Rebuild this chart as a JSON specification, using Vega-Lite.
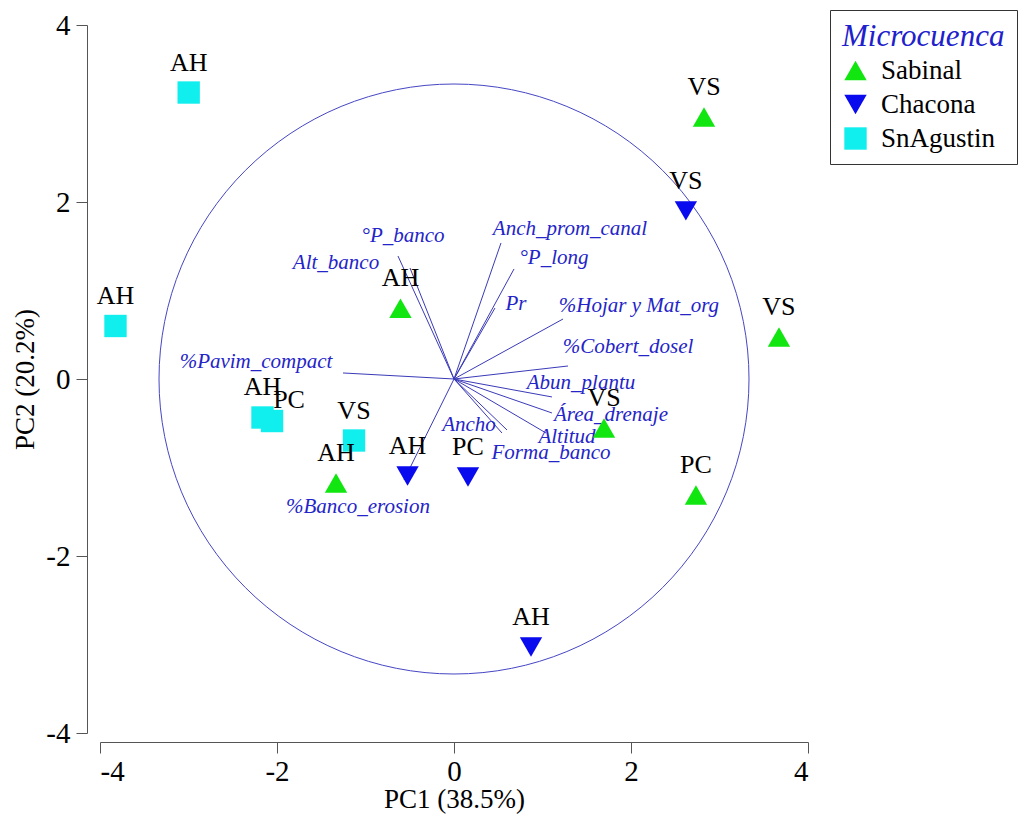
{
  "$schema": "https://vega.github.io/schema/vega-lite/v6.json",
  "width": 708,
  "height": 708,
  "autosize": {"type": "none"},
  "padding": {"left": 100, "top": 25, "right": 216, "bottom": 88},
  "background": "white",
  "config": {
    "view": {"stroke": null},
    "font": "Times New Roman, Liberation Serif, DejaVu Serif, serif",
    "text": {"font": "Times New Roman, Liberation Serif, DejaVu Serif, serif"},
    "axis": {"labelFont": "Times New Roman, Liberation Serif, DejaVu Serif, serif", "titleFont": "Times New Roman, Liberation Serif, DejaVu Serif, serif"},
    "legend": {"labelFont": "Times New Roman, Liberation Serif, DejaVu Serif, serif", "titleFont": "Times New Roman, Liberation Serif, DejaVu Serif, serif"}
  },
  "datasets": {
    "scores": [
      {"grp": "Sabinal", "lab": "VS", "x": 2.825, "y": 2.96},
      {"grp": "Sabinal", "lab": "VS", "x": 3.672, "y": 0.475},
      {"grp": "Sabinal", "lab": "AH", "x": -0.605, "y": 0.8},
      {"grp": "Sabinal", "lab": "VS", "x": 1.695, "y": -0.554},
      {"grp": "Sabinal", "lab": "PC", "x": 2.734, "y": -1.311},
      {"grp": "Sabinal", "lab": "AH", "x": -1.333, "y": -1.175},
      {"grp": "Chacona", "lab": "VS", "x": 2.62, "y": 1.9},
      {"grp": "Chacona", "lab": "AH", "x": -0.525, "y": -1.096},
      {"grp": "Chacona", "lab": "PC", "x": 0.158, "y": -1.107},
      {"grp": "Chacona", "lab": "AH", "x": 0.87, "y": -3.028},
      {"grp": "SnAgustin", "lab": "AH", "x": -2.998, "y": 3.237},
      {"grp": "SnAgustin", "lab": "AH", "x": -3.825, "y": 0.599},
      {"grp": "SnAgustin", "lab": "AH", "x": -2.164, "y": -0.435},
      {"grp": "SnAgustin", "lab": "PC", "x": -2.056, "y": -0.475},
      {"grp": "SnAgustin", "lab": "VS", "x": -1.13, "y": -0.695}
    ],
    "loadings": [
      {"v": "°P_banco", "ex": -0.633, "ey": 1.39, "lx": -0.576, "ly": 1.616},
      {"v": "Alt_banco", "ex": -0.497, "ey": 1.254, "lx": -1.333, "ly": 1.311},
      {"v": "%Pavim_compact", "ex": -1.254, "ey": 0.068, "lx": -2.237, "ly": 0.192},
      {"v": "Anch_prom_canal", "ex": 0.531, "ey": 1.537, "lx": 1.311, "ly": 1.695},
      {"v": "°P_long", "ex": 0.678, "ey": 1.243, "lx": 1.13, "ly": 1.367},
      {"v": "Pr", "ex": 0.463, "ey": 0.802, "lx": 0.701, "ly": 0.847},
      {"v": "%Hojar y Mat_org", "ex": 1.232, "ey": 0.678, "lx": 2.09, "ly": 0.825},
      {"v": "%Cobert_dosel", "ex": 1.288, "ey": 0.147, "lx": 1.966, "ly": 0.362},
      {"v": "Abun_plantu", "ex": 1.107, "ey": -0.203, "lx": 1.435, "ly": -0.045},
      {"v": "Área_drenaje", "ex": 1.107, "ey": -0.384, "lx": 1.774, "ly": -0.407},
      {"v": "Altitud", "ex": 1.04, "ey": -0.61, "lx": 1.277, "ly": -0.655},
      {"v": "Forma_banco", "ex": 0.599, "ey": -0.576, "lx": 1.096, "ly": -0.836},
      {"v": "Ancho", "ex": 0.542, "ey": -0.61, "lx": 0.169, "ly": -0.52},
      {"v": "%Banco_erosion", "ex": -0.565, "ey": -1.141, "lx": -1.085, "ly": -1.446}
    ],
    "origin": [{"x": 0, "y": 0}]
  },
  "encoding": {
    "x": {
      "type": "quantitative",
      "scale": {"domain": [-4, 4], "nice": false, "zero": false},
      "axis": {
        "values": [-4, -2, 0, 2, 4],
        "labelExpr": "'' + datum.value",
        "title": "PC1 (38.5%)",
        "grid": false,
        "offset": 9,
        "domainColor": "#555555",
        "tickColor": "#555555",
        "tickSize": 11,
        "labelFontSize": 29,
        "labelColor": "black",
        "labelPadding": 4,
        "titleFontSize": 27,
        "titleFontWeight": "normal",
        "titleColor": "black",
        "titlePadding": 0
      }
    },
    "y": {
      "type": "quantitative",
      "scale": {"domain": [-4, 4], "nice": false, "zero": false},
      "axis": {
        "values": [-4, -2, 0, 2, 4],
        "labelExpr": "'' + datum.value",
        "title": "PC2 (20.2%)",
        "grid": false,
        "offset": 13,
        "domainColor": "#555555",
        "tickColor": "#555555",
        "tickSize": 11,
        "labelFontSize": 29,
        "labelColor": "black",
        "labelPadding": 6,
        "titleFontSize": 27,
        "titleFontWeight": "normal",
        "titleColor": "black",
        "titlePadding": 6
      }
    }
  },
  "layer": [
    {
      "data": {"name": "origin"},
      "mark": {"type": "point", "shape": "circle", "filled": false, "size": 348100, "stroke": "#4646c4", "strokeWidth": 1, "opacity": 1},
      "encoding": {"x": {"field": "x", "type": "quantitative"}, "y": {"field": "y", "type": "quantitative"}}
    },
    {
      "data": {"name": "loadings"},
      "mark": {"type": "rule", "color": "#3a3ab8", "strokeWidth": 1},
      "encoding": {
        "x": {"field": "ex", "type": "quantitative"},
        "y": {"field": "ey", "type": "quantitative"},
        "x2": {"datum": 0},
        "y2": {"datum": 0}
      }
    },
    {
      "data": {"name": "loadings"},
      "mark": {"type": "text", "fontStyle": "italic", "fontSize": 21, "color": "#2424c8", "align": "center", "baseline": "middle"},
      "encoding": {
        "x": {"field": "lx", "type": "quantitative"},
        "y": {"field": "ly", "type": "quantitative"},
        "text": {"field": "v"}
      }
    },
    {
      "data": {"name": "scores"},
      "mark": {"type": "point", "filled": true, "opacity": 1, "strokeWidth": 0},
      "encoding": {
        "x": {"field": "x", "type": "quantitative"},
        "y": {"field": "y", "type": "quantitative"},
        "color": {
          "field": "grp", "type": "nominal",
          "scale": {"domain": ["Sabinal", "Chacona", "SnAgustin"], "range": ["#11e611", "#0a0aee", "#11eeee"]},
          "legend": {
            "title": "Microcuenca",
            "orient": "none",
            "legendX": 730,
            "legendY": -15,
            "titleFontStyle": "italic",
            "titleFontWeight": "normal",
            "titleFontSize": 31,
            "titleColor": "#2020cc",
            "titlePadding": 4,
            "labelFontSize": 27,
            "labelColor": "black",
            "labelOffset": 12,
            "rowPadding": 6,
            "strokeColor": "#333333",
            "padding": 12,
            "fillColor": "white"
          }
        },
        "shape": {
          "field": "grp", "type": "nominal",
          "scale": {"domain": ["Sabinal", "Chacona", "SnAgustin"], "range": ["triangle-up", "triangle-down", "square"]}
        },
        "size": {
          "field": "grp", "type": "nominal",
          "scale": {"domain": ["Sabinal", "Chacona", "SnAgustin"], "range": [500, 500, 310]}
        }
      }
    },
    {
      "data": {"name": "scores"},
      "transform": [{"filter": "!(datum.lab == 'PC' && datum.grp == 'SnAgustin')"}],
      "mark": {"type": "text", "fontSize": 26, "color": "black", "align": "center", "baseline": "middle", "dy": -30},
      "encoding": {
        "x": {"field": "x", "type": "quantitative"},
        "y": {"field": "y", "type": "quantitative"},
        "text": {"field": "lab"}
      }
    },
    {
      "data": {"name": "scores"},
      "transform": [{"filter": "datum.lab == 'PC' && datum.grp == 'SnAgustin'"}],
      "mark": {"type": "text", "fontSize": 26, "color": "black", "align": "center", "baseline": "middle", "dx": 17, "dy": -21},
      "encoding": {
        "x": {"field": "x", "type": "quantitative"},
        "y": {"field": "y", "type": "quantitative"},
        "text": {"field": "lab"}
      }
    }
  ]
}
